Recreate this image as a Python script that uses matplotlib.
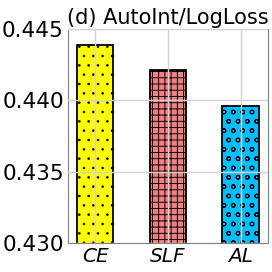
import matplotlib
matplotlib.use('Agg')
import matplotlib.pyplot as plt

methods = ['CE', 'SLF', 'AL']
logloss = [0.44388, 0.44213, 0.43962]
colors = ['yellow', 'lightcoral', 'deepskyblue']
hatches = ['..', '+++', 'oo']
hatch_lw = [0.4, 0.6, 0.65]

DPI = 112
k = 100 / DPI  # keep pixel sizes as tuned at 100 dpi

fig = plt.figure(figsize=(272 / DPI, 272 / DPI), dpi=DPI)
ax = fig.add_axes([0.25, 0.107, 0.735, 0.786])

bars = ax.bar(range(len(methods)), logloss, width=0.5, color=colors,
              edgecolor='black', linewidth=1.3 * k, zorder=1)
for b, h, lw in zip(bars, hatches, hatch_lw):
    b.set_hatch(h)
    if hasattr(b, 'set_hatch_linewidth'):
        b.set_hatch_linewidth(lw)

ax.set_ylim(0.430, 0.445)
ax.set_yticks([0.430, 0.435, 0.440, 0.445])
ax.set_xticks(range(len(methods)))
ax.set_xticklabels(methods, fontstyle='italic')
ax.tick_params(axis='y', labelsize=15.5 * k, length=0, pad=3 * k)
ax.tick_params(axis='x', labelsize=14.5 * k, length=0, pad=3 * k)
ax.set_axisbelow(False)
ax.grid(True, color='lightgray', linewidth=1 * k)
for s in ax.spines.values():
    s.set_color('gray')
    s.set_linewidth(0.8 * k)
ax.set_title('(d) AutoInt/LogLoss', fontsize=15 * k, pad=4 * k)

fig.savefig('out.png', dpi=DPI)
